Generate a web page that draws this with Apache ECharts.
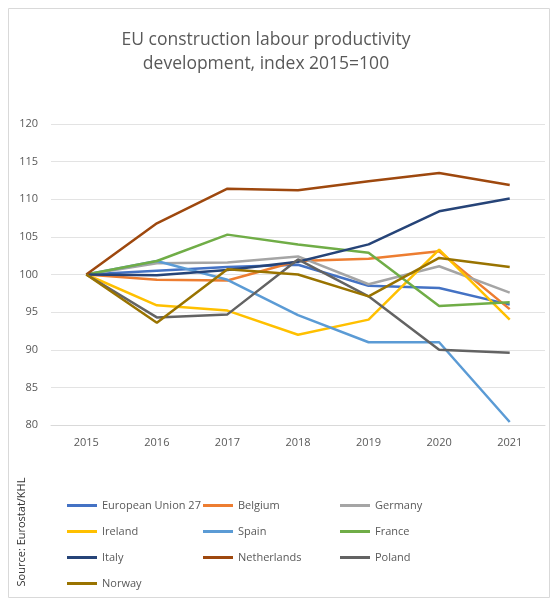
<!DOCTYPE html>
<html>
<head>
<meta charset="utf-8">
<script src="https://cdn.jsdelivr.net/npm/echarts@6/dist/echarts.min.js"></script>
<style>
html,body{margin:0;padding:0;background:#fff;}
#chart{width:557px;height:599px;}
</style>
</head>
<body>
<div id="chart"></div>
<script>
const years = ['2015','2016','2017','2018','2019','2020','2021'];
const yTicks = [80, 85, 90, 95, 100, 105, 110, 115, 120];

const eu27        = [100, 100.5, 101.0, 101.3, 98.5, 98.2, 96.0];
const belgium     = [100, 99.3, 99.2, 101.8, 102.1, 103.1, 95.4];
const germany     = [100, 101.5, 101.6, 102.4, 98.7, 101.1, 97.6];
const ireland     = [100, 95.9, 95.2, 92.0, 94.0, 103.3, 94.0];
const spain       = [100, 101.8, 99.3, 94.6, 91.0, 91.0, 80.4];
const france      = [100, 101.8, 105.3, 104.0, 102.9, 95.8, 96.3];
const italy       = [100, 99.9, 100.6, 101.7, 104.0, 108.4, 110.1];
const netherlands = [100, 106.8, 111.4, 111.2, 112.4, 113.5, 111.9];
const poland      = [100, 94.3, 94.7, 102.0, 97.1, 90.0, 89.6];
const norway      = [100, 93.6, 100.7, 100.0, 97.1, 102.2, 101.0];

const seriesDefs = [
  ['European Union 27', eu27, '#4472C4'],
  ['Belgium', belgium, '#ED7D31'],
  ['Germany', germany, '#A5A5A5'],
  ['Ireland', ireland, '#FFC000'],
  ['Spain', spain, '#5B9BD5'],
  ['France', france, '#70AD47'],
  ['Italy', italy, '#264478'],
  ['Netherlands', netherlands, '#9E480E'],
  ['Poland', poland, '#636363'],
  ['Norway', norway, '#997300']
];

const chart = echarts.init(document.getElementById('chart'));
const legendBase = {
  orient: 'vertical', top: 500, itemGap: 15, itemWidth: 30, itemHeight: 3, padding: 0,
  icon: 'rect', textStyle: {color: '#595959', fontSize: 11, fontFamily: 'Open Sans'}
};
chart.setOption({
  animation: false,
  title: {
    text: 'EU construction labour productivity\ndevelopment, index 2015=100',
    left: 261, textAlign: 'center', top: 23,
    textStyle: {color: '#595959', fontSize: 17.5, fontWeight: 'normal', fontFamily: 'Open Sans', lineHeight: 24}
  },
  grid: {left: 51, right: 12, top: 124, bottom: 174},
  xAxis: {
    type: 'category', data: years, boundaryGap: true,
    axisLine: {lineStyle: {color: '#d9d9d9'}}, axisTick: {show: false},
    axisLabel: {color: '#595959', fontSize: 11, margin: 12, fontFamily: 'Open Sans'}
  },
  yAxis: {
    type: 'value', min: yTicks[0], max: yTicks[yTicks.length-1], interval: 5,
    axisLine: {show: false}, axisTick: {show: false},
    axisLabel: {color: '#595959', fontSize: 11, margin: 13, fontFamily: 'Open Sans'},
    splitLine: {lineStyle: {color: '#e3e3e3'}}
  },
  legend: [
    Object.assign({}, legendBase, {left: 67, data: ['European Union 27','Ireland','Italy','Norway']}),
    Object.assign({}, legendBase, {left: 203, data: ['Belgium','Spain','Netherlands']}),
    Object.assign({}, legendBase, {left: 340, data: ['Germany','France','Poland']})
  ],
  graphic: [
    {type: 'rect', shape: {x: 8.5, y: 8.5, width: 541, height: 589},
     style: {fill: 'none', stroke: '#d9d9d9', lineWidth: 1}, silent: true},
    {type: 'text', x: 22, y: 532, rotation: Math.PI/2,
     style: {text: 'Source: Eurostat/KHL', fill: '#333', fontSize: 11, fontFamily: 'Open Sans',
             align: 'center', verticalAlign: 'middle'}}
  ],
  series: seriesDefs.map(([name, data, color]) => ({
    name, type: 'line', data, symbol: 'none',
    lineStyle: {width: 2.5, color}, itemStyle: {color}
  }))
});
</script>
</body>
</html>
